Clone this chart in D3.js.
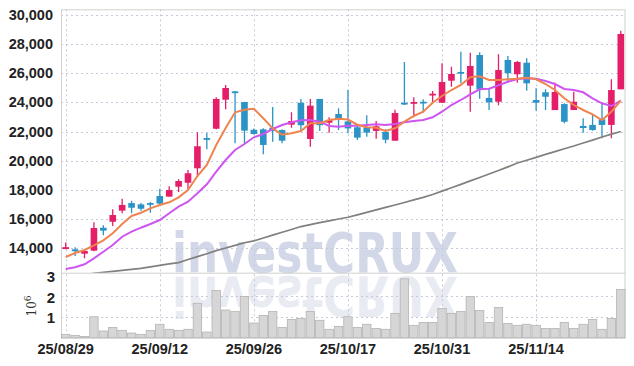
<!DOCTYPE html>
<html>
<head>
<meta charset="utf-8">
<script src="https://cdn.jsdelivr.net/npm/d3@7"></script>
<style>
  html, body { margin: 0; padding: 0; background: #fff; }
  #chart { width: 634px; height: 366px; }
  text { font-family: "Liberation Sans Narrow", "Arial Narrow", "Liberation Sans", sans-serif; }
</style>
</head>
<body>
<div id="chart"></div>
<script>
// trading days (yy/mm/dd)
const dates = [
  '25/08/29',
  '25/09/01', '25/09/02', '25/09/03', '25/09/04', '25/09/05',
  '25/09/08', '25/09/09', '25/09/10', '25/09/11', '25/09/12',
  '25/09/15', '25/09/16', '25/09/17', '25/09/18', '25/09/19',
  '25/09/22', '25/09/23', '25/09/24', '25/09/25', '25/09/26',
  '25/09/29', '25/09/30', '25/10/01', '25/10/02', '25/10/10',
  '25/10/13', '25/10/14', '25/10/15', '25/10/16', '25/10/17',
  '25/10/20', '25/10/21', '25/10/22', '25/10/23', '25/10/24',
  '25/10/27', '25/10/28', '25/10/29', '25/10/30', '25/10/31',
  '25/11/03', '25/11/04', '25/11/05', '25/11/06', '25/11/07',
  '25/11/10', '25/11/11', '25/11/12', '25/11/13', '25/11/14',
  '25/11/17', '25/11/18', '25/11/19', '25/11/20', '25/11/21',
  '25/11/24', '25/11/25', '25/11/26', '25/11/27'
];

const openPrices = [
  13950, 13930, 13630, 13840, 15410, 15820, 16580, 17100, 17010, 17100,
  17580, 17540, 18220, 18490, 19480, 21550, 22190, 24180, 24750, 24020,
  22120, 22150, 22260, 22100, 22470, 23970, 21490, 24230, 22600, 23200,
  22690, 22290, 22290, 22040, 21970, 21370, 23970, 23930, 24040, 24480,
  23970, 25480, 26080, 25140, 27240, 24300, 24040, 26900, 25920, 26710,
  24160, 24690, 23470, 23880, 23470, 22380, 22450, 22840, 22450, 24890
];
const highPrices = [
  14400, 14070, 13830, 15780, 15580, 16670, 17400, 17260, 17100, 17170,
  18080, 18250, 18730, 19360, 21950, 21900, 24340, 25190, 24760, 24020,
  22200, 22220, 23680, 22150, 23320, 24230, 24230, 24230, 22970, 23590,
  24840, 22510, 23110, 22720, 22150, 23490, 26760, 24340, 24210, 24770,
  26670, 26440, 27470, 27400, 27430, 24960, 27290, 27170, 26830, 27010,
  24960, 24890, 25340, 23930, 24730, 22900, 23130, 23880, 25580, 28900
];
const lowPrices = [
  13930, 13470, 13320, 13800, 14890, 15530, 16400, 16400, 16580, 16440,
  17010, 17530, 17860, 17990, 18900, 20780, 22150, 23520, 21190, 21190,
  21800, 20440, 21300, 21190, 22260, 22030, 20960, 22030, 21920, 22100,
  21880, 21420, 21640, 21510, 21190, 21370, 23820, 22970, 23290, 23930,
  23970, 25070, 25300, 23360, 24250, 23470, 23800, 25410, 25340, 24790,
  23420, 23470, 23470, 22560, 23470, 21920, 22060, 21540, 21540, 24890
];
const closePrices = [
  14080, 13800, 13820, 15390, 15210, 16280, 16970, 16780, 16710, 16990,
  17060, 17990, 18610, 19140, 20990, 21440, 24230, 24980, 24700, 22060,
  21830, 21080, 22030, 21370, 22720, 22430, 23770, 22430, 22790, 22840,
  22210, 21580, 21920, 22360, 21440, 23270, 23860, 24020, 23970, 24590,
  25390, 25940, 25960, 26490, 24890, 24000, 26210, 25990, 26760, 25300,
  23970, 24380, 24710, 22670, 24040, 22240, 22100, 22450, 24840, 28680
];
// volume in millions of shares
const volumes = [
  0.16, 0.11, 0.06, 1.00, 0.32, 0.49, 0.35, 0.22, 0.16, 0.35,
  0.64, 0.40, 0.35, 0.40, 1.64, 0.27, 2.25, 1.32, 1.25, 1.97,
  0.70, 1.06, 1.25, 0.49, 0.87, 0.92, 1.25, 0.83, 0.40, 0.54,
  1.00, 0.49, 0.64, 0.44, 0.40, 1.16, 2.81, 0.59, 0.73, 0.73,
  1.40, 1.16, 1.25, 1.97, 1.30, 0.73, 1.44, 0.68, 0.59, 0.64,
  0.59, 0.44, 0.44, 0.73, 0.44, 0.64, 0.87, 0.40, 0.92, 2.30
];
// moving averages
const ma5 = [
  13405, 13680, 13885, 14206, 14548, 15028, 15665, 16213, 16439, 16740,
  16966, 17151, 17494, 17994, 18952, 19706, 21076, 22240, 23315, 23493,
  23562, 22904, 22219, 21781, 21877, 22035, 22562, 22562, 22788, 22877,
  22822, 22466, 22288, 22260, 22035, 22219, 22671, 23062, 23356, 23973,
  24432, 24843, 25185, 25712, 25781, 25528, 25528, 25576, 25617, 25685,
  25576, 25254, 24843, 24274, 23815, 23473, 23178, 22788, 23356, 24110
];
const ma20 = [
  12583, 12700, 12905, 13316, 13768, 14227, 14795, 15138, 15412, 15665,
  15939, 16398, 16850, 17192, 17768, 18384, 19247, 20048, 20733, 21144,
  21603, 21829, 22172, 22446, 22631, 22768, 22788, 22671, 22377, 22329,
  22398, 22398, 22446, 22493, 22446, 22514, 22631, 22720, 22788, 22973,
  23356, 23815, 24158, 24548, 24890, 24932, 25165, 25411, 25596, 25644,
  25617, 25459, 25254, 24911, 24843, 24685, 24274, 23932, 23747, 24110
];
const maLong = [
  11900, 12050, 12180, 12290, 12360, 12420, 12490, 12560, 12630, 12730,
  12830, 12930, 13020, 13230, 13430, 13630, 13840, 14020, 14200, 14380,
  14510, 14710, 14900, 15100, 15290, 15490, 15620, 15760, 15880, 16010,
  16130, 16290, 16460, 16630, 16800, 16970, 17140, 17320, 17490, 17690,
  17920, 18150, 18380, 18620, 18850, 19090, 19330, 19580, 19840, 20030,
  20230, 20430, 20620, 20820, 21010, 21210, 21410, 21620, 21820, 22000
];

const priceTicks = [14000, 16000, 18000, 20000, 22000, 24000, 26000, 28000, 30000];
const volTicks = [1, 2, 3];
const dateTicks = ['25/08/29', '25/09/12', '25/09/26', '25/10/17', '25/10/31', '25/11/14'];

const width = 634;
const height = 366;
const left = 61, right = 625.5;
const priceTop = 9.3, priceBottom = 272.7;
const volBottom = 337.7;

const colorUp = '#e41e68';
const colorDown = '#2b93c6';
const gridColor = '#c6c9da';

const rows = dates.map((d, i) => ({
  date: d,
  open: openPrices[i], high: highPrices[i], low: lowPrices[i], close: closePrices[i],
  vol: volumes[i]
}));

const svg = d3.select('#chart').append('svg')
  .attr('width', width)
  .attr('height', height);

const x = d3.scaleBand().domain(dates).range([left, right]).padding(0);
const bw = x.bandwidth();
const cx = d => x(d) + bw / 2;

const y = d3.scaleLinear().domain([12330, 30370]).range([priceBottom, priceTop]);
const yv = d3.scaleLinear().domain([0, 3.1]).range([volBottom, priceBottom]);

svg.append('defs').append('clipPath').attr('id', 'priceClip')
  .append('rect')
  .attr('x', left).attr('y', priceTop)
  .attr('width', right - left).attr('height', priceBottom - priceTop);

// watermark + its reflection in the volume panel
const wmX = 172, wmBase = 271.5;
svg.append('text')
  .attr('x', wmX).attr('y', wmBase)
  .style('font-family', '"DejaVu Sans", sans-serif')
  .attr('font-weight', 'bold')
  .attr('font-size', 55)
  .attr('textLength', 286)
  .attr('lengthAdjust', 'spacingAndGlyphs')
  .attr('fill', '#d3d8e8')
  .text('investCRUX');

svg.append('text')
  .attr('transform', `translate(0, ${2 * 274}) scale(1, -1)`)
  .attr('x', wmX).attr('y', wmBase)
  .style('font-family', '"DejaVu Sans", sans-serif')
  .attr('font-weight', 'bold')
  .attr('font-size', 55)
  .attr('textLength', 286)
  .attr('lengthAdjust', 'spacingAndGlyphs')
  .attr('fill', '#e4e6f0')
  .attr('fill-opacity', 0.8)
  .text('investCRUX');

// grid
const grid = svg.append('g').attr('stroke', gridColor).attr('stroke-dasharray', '2,3').attr('stroke-width', 1);
grid.selectAll('.hp').data(priceTicks).enter().append('line')
  .attr('x1', left).attr('x2', right)
  .attr('y1', d => Math.round(y(d)) + 0.5).attr('y2', d => Math.round(y(d)) + 0.5);
grid.selectAll('.hv').data(volTicks.slice(0, 2)).enter().append('line')
  .attr('x1', left).attr('x2', right)
  .attr('y1', d => Math.round(yv(d)) + 0.5).attr('y2', d => Math.round(yv(d)) + 0.5);
grid.selectAll('.vt').data(dateTicks).enter().append('line')
  .attr('x1', d => Math.round(cx(d)) + 0.5).attr('x2', d => Math.round(cx(d)) + 0.5)
  .attr('y1', priceTop).attr('y2', volBottom);

// frame
svg.append('rect')
  .attr('x', left + 0.5).attr('y', priceTop + 0.5)
  .attr('width', right - left - 1).attr('height', volBottom - priceTop)
  .attr('fill', 'none').attr('stroke', '#d0d0d0');
svg.append('line')
  .attr('x1', left).attr('x2', right)
  .attr('y1', priceBottom + 0.5).attr('y2', priceBottom + 0.5)
  .attr('stroke', '#d0d0d0');

// volume bars
svg.append('g').selectAll('rect').data(rows).enter().append('rect')
  .attr('x', d => x(d.date) + 0.5)
  .attr('y', d => yv(d.vol))
  .attr('width', bw - 1)
  .attr('height', d => yv(0) - yv(d.vol))
  .attr('fill', '#d6d6d6')
  .attr('stroke', '#b4b4b4')
  .attr('stroke-width', 0.8);

// candles
const candles = svg.append('g').attr('clip-path', 'url(#priceClip)')
  .selectAll('g').data(rows).enter().append('g');
candles.append('line')
  .attr('x1', d => cx(d.date)).attr('x2', d => cx(d.date))
  .attr('y1', d => y(d.high)).attr('y2', d => y(d.low))
  .attr('stroke', d => d.close >= d.open ? colorUp : colorDown)
  .attr('stroke-width', 1.3);
candles.append('rect')
  .attr('x', d => cx(d.date) - 3.3)
  .attr('width', 6.6)
  .attr('y', d => y(Math.max(d.open, d.close)))
  .attr('height', d => Math.max(1.8, Math.abs(y(d.open) - y(d.close))))
  .attr('fill', d => d.close >= d.open ? colorUp : colorDown);

// moving averages
const lines = svg.append('g').attr('clip-path', 'url(#priceClip)').attr('fill', 'none');
const lineGen = arr => d3.line().x((v, i) => cx(dates[i])).y(v => y(v))(arr);
lines.append('path').attr('d', lineGen(maLong)).attr('stroke', '#808080').attr('stroke-width', 1.7);
lines.append('path').attr('d', lineGen(ma20)).attr('stroke', '#cf55ef').attr('stroke-width', 2);
lines.append('path').attr('d', lineGen(ma5)).attr('stroke', '#ef8450').attr('stroke-width', 2);

// axis labels
const fmt = d3.format(',');
svg.append('g').selectAll('text').data(priceTicks).enter().append('text')
  .attr('x', 53).attr('y', d => y(d))
  .attr('dy', '0.35em')
  .attr('text-anchor', 'end')
  .attr('font-size', 14.5)
  .attr('font-weight', 'bold')
  .attr('fill', '#222')
  .text(d => fmt(d));

svg.append('g').selectAll('text').data(volTicks).enter().append('text')
  .attr('x', 55).attr('y', d => yv(d) + 1.5)
  .attr('dy', '0.35em')
  .attr('text-anchor', 'end')
  .attr('font-size', 15)
  .attr('font-weight', 'bold')
  .attr('fill', '#222')
  .text(d => d);

const unit = svg.append('text')
  .attr('transform', 'translate(36, 306) rotate(-90)')
  .attr('text-anchor', 'middle')
  .style('font-family', '"DejaVu Serif", serif')
  .attr('font-size', 12)
  .attr('fill', '#333');
unit.append('tspan').text('10');
unit.append('tspan').attr('dy', -5).attr('font-size', 9).text('6');

svg.append('g').selectAll('text').data(dateTicks).enter().append('text')
  .attr('x', d => cx(d)).attr('y', 354)
  .attr('text-anchor', 'middle')
  .attr('font-size', 14.5)
  .attr('font-weight', 'bold')
  .attr('fill', '#222')
  .text(d => d);
</script>
</body>
</html>
